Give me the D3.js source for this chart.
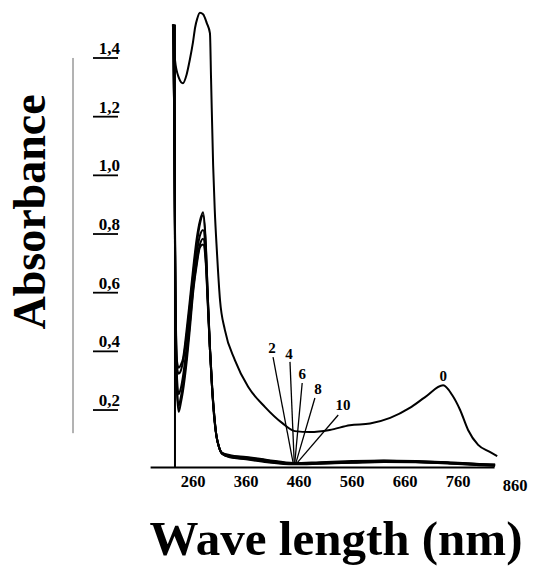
<!DOCTYPE html>
<head>
    <title>Absorbance spectra</title>
    <script src='https://d3js.org/d3.v7.min.js'></script>
</head>
<style>
body {
  margin: 0;
  background: #fff;
}
#chart {
  position: relative;
  width: 538px;
  height: 568px;
}
#chart svg {
  position: absolute;
  left: 0;
  top: 0;
}
text {
  font-family: 'Liberation Serif', 'DejaVu Serif', serif;
  fill: #000;
}
</style>
<body>
    <div id='chart'></div>
</body>

<script>

    // Data (wavelength in nm, absorbance)
    var xTicks = [260, 360, 460, 560, 660, 760, 860];
    var yTicks = [0.2, 0.4, 0.6, 0.8, 1.0, 1.2, 1.4];

    // curve "0"
    var wave0 = [222, 226, 233, 241, 248, 254, 260, 264, 268, 273, 279, 286, 292, 294, 298, 301, 305, 311, 320, 339, 364,
                 396, 428, 452, 481, 518, 556, 594, 632, 669, 698, 732, 749, 764, 779, 798, 820, 834];
    var abs0  = [1.48, 1.36, 1.30, 1.28, 1.31, 1.36, 1.42, 1.47, 1.50, 1.52, 1.515, 1.485, 1.45, 1.30, 1.00, 0.85, 0.71, 0.54, 0.44, 0.336, 0.245,
                 0.176, 0.122, 0.094, 0.091, 0.098, 0.114, 0.12, 0.139, 0.173, 0.21, 0.25, 0.217, 0.166, 0.098, 0.047, 0.023, 0.009];

    // curves "2" .. "10" share one wavelength grid
    var waveN = [223, 225, 227, 230, 233, 237, 241, 248, 254, 261, 267, 273, 279, 284, 288, 292, 296, 300, 304, 309, 315,
                 330, 360, 400, 450, 500, 560, 620, 680, 740, 800, 830];
    var abs2  = [1.48, 1.05, 0.56, 0.33, 0.31, 0.32, 0.34, 0.44, 0.54, 0.66, 0.75, 0.81, 0.84, 0.74, 0.55, 0.38, 0.25, 0.15, 0.08, 0.04, 0.02,
                 0.012, 0.006, -0.004, -0.015, -0.012, -0.008, -0.006, -0.008, -0.012, -0.018, -0.02];
    var abs4  = [1.48, 1.05, 0.54, 0.31, 0.29, 0.30, 0.33, 0.42, 0.52, 0.64, 0.73, 0.80, 0.83, 0.73, 0.55, 0.38, 0.25, 0.15, 0.08, 0.04, 0.019,
                 0.010, 0.004, -0.006, -0.016, -0.014, -0.010, -0.007, -0.009, -0.013, -0.019, -0.021];
    var abs6  = [1.48, 1.04, 0.50, 0.27, 0.22, 0.24, 0.28, 0.38, 0.48, 0.61, 0.70, 0.76, 0.78, 0.70, 0.54, 0.37, 0.24, 0.15, 0.08, 0.04, 0.018,
                 0.008, 0.002, -0.008, -0.017, -0.015, -0.012, -0.009, -0.010, -0.014, -0.020, -0.022];
    var abs8  = [1.48, 1.04, 0.47, 0.23, 0.18, 0.21, 0.25, 0.35, 0.46, 0.59, 0.67, 0.73, 0.75, 0.68, 0.53, 0.37, 0.24, 0.14, 0.08, 0.04, 0.017,
                 0.006, 0.000, -0.010, -0.018, -0.016, -0.013, -0.010, -0.011, -0.015, -0.021, -0.023];
    var abs10 = [1.48, 1.03, 0.45, 0.22, 0.16, 0.19, 0.23, 0.33, 0.44, 0.58, 0.66, 0.72, 0.73, 0.67, 0.52, 0.37, 0.24, 0.14, 0.08, 0.04, 0.016,
                 0.005, -0.002, -0.012, -0.019, -0.017, -0.014, -0.011, -0.012, -0.016, -0.022, -0.024];

    // curve labels and their leader lines
    var labelNames = ['2', '4', '6', '8', '10', '0'];
    var labelWave  = [409, 441, 466, 496, 543, 732];
    var labelAbs   = [0.36, 0.34, 0.27, 0.22, 0.165, 0.265];
    var leadFromW  = [411, 443, 466, 490, 534];
    var leadFromA  = [0.346, 0.33, 0.258, 0.207, 0.149];
    var leadToW    = [449, 451, 452, 454, 456];
    var leadToA    = [-0.015, -0.015, -0.015, -0.015, -0.015];

    // Variables
    var vWidth = 538;
    var vHeight = 568;

    var x = d3.scaleLinear().domain([260, 860]).range([193, 511]);
    var y = d3.scaleLinear().domain([0, 1.4]).range([458.7, 48]);

    // stacked layers: marks below, axes and texts on top
    var marks = d3.select('#chart').append('svg')
        .attr('width', vWidth)
        .attr('height', vHeight);
    var svg = d3.select('#chart').append('svg')
        .attr('width', vWidth)
        .attr('height', vHeight);

    marks.append('rect').attr('width', vWidth).attr('height', vHeight).attr('fill', '#fff');

    // curves
    var line = d3.line()
        .x(function (d) { return x(d[0]); })
        .y(function (d) { return y(d[1]); })
        .curve(d3.curveMonotoneX);

    var series = [
        d3.zip(wave0, abs0),
        d3.zip(waveN, abs2),
        d3.zip(waveN, abs4),
        d3.zip(waveN, abs6),
        d3.zip(waveN, abs8),
        d3.zip(waveN, abs10)
    ];

    marks.append('g').selectAll('path')
        .data(series)
        .enter().append('path')
        .attr('d', line)
        .attr('fill', 'none')
        .attr('stroke', '#000')
        .attr('stroke-width', 2);

    // leader lines
    marks.append('g').selectAll('line')
        .data(leadFromW)
        .enter().append('line')
        .attr('x1', function (d) { return x(d); })
        .attr('y1', function (d, i) { return y(leadFromA[i]); })
        .attr('x2', function (d, i) { return x(leadToW[i]); })
        .attr('y2', function (d, i) { return y(leadToA[i]); })
        .attr('stroke', '#000')
        .attr('stroke-width', 1.3);

    // faint scan frame line left of the labels
    svg.append('line')
        .attr('x1', 73).attr('x2', 73)
        .attr('y1', y(1.366)).attr('y2', y(0.087))
        .attr('stroke', '#666').attr('stroke-width', 1);

    // axis lines
    svg.append('line')
        .attr('x1', x(180)).attr('x2', x(829))
        .attr('y1', y(-0.03)).attr('y2', y(-0.03))
        .attr('stroke', '#000').attr('stroke-width', 2.2);

    svg.append('line')
        .attr('x1', x(226)).attr('x2', x(226))
        .attr('y1', y(-0.03)).attr('y2', y(1.48))
        .attr('stroke', '#000').attr('stroke-width', 2);

    // y tick labels, underlined, comma decimals
    var fmt = function (d) { return d3.format('.1f')(d).replace('.', ','); };
    var yLab = svg.append('g').selectAll('g')
        .data(yTicks)
        .enter().append('g')
        .attr('transform', function (d) { return 'translate(120,' + y(d) + ')'; });

    yLab.append('text')
        .attr('text-anchor', 'end')
        .attr('dy', '0.35em')
        .style('font-size', '17px')
        .style('font-weight', 'bold')
        .text(fmt);

    yLab.append('line')
        .attr('x1', -27).attr('x2', -2)
        .attr('y1', 10).attr('y2', 10)
        .attr('stroke', '#000').attr('stroke-width', 1.8);

    // curve labels
    svg.append('g').selectAll('text')
        .data(labelNames)
        .enter().append('text')
        .attr('x', function (d, i) { return x(labelWave[i]); })
        .attr('y', function (d, i) { return y(labelAbs[i]); })
        .attr('text-anchor', 'middle')
        .style('font-size', '15px')
        .style('font-weight', 'bold')
        .text(function (d) { return d; });

    // axis titles
    svg.append('text')
        .attr('transform', 'translate(45,212)rotate(-90)')
        .attr('text-anchor', 'middle')
        .style('font-size', '46px')
        .style('font-weight', 'bold')
        .text('Absorbance');

    svg.append('text')
        .attr('x', 336)
        .attr('y', 555)
        .attr('text-anchor', 'middle')
        .style('font-size', '49px')
        .style('font-weight', 'bold')
        .text('Wave length (nm)');

    // x tick labels (no tick marks) in their own top layer, placed with the x scale
    var labels = d3.select('#chart').append('svg')
        .attr('width', vWidth)
        .attr('height', vHeight);

    labels.append('g').selectAll('text')
        .data(xTicks)
        .enter().append('text')
        .attr('x', function (d) { return x(d) + (d === 860 ? 4 : 0); })
        .attr('y', function (d) { return y(-0.03) + (d === 860 ? 23 : 19); })
        .attr('text-anchor', 'middle')
        .style('font-size', '16.5px')
        .style('font-weight', 'bold')
        .text(function (d) { return String(d); });

</script>
